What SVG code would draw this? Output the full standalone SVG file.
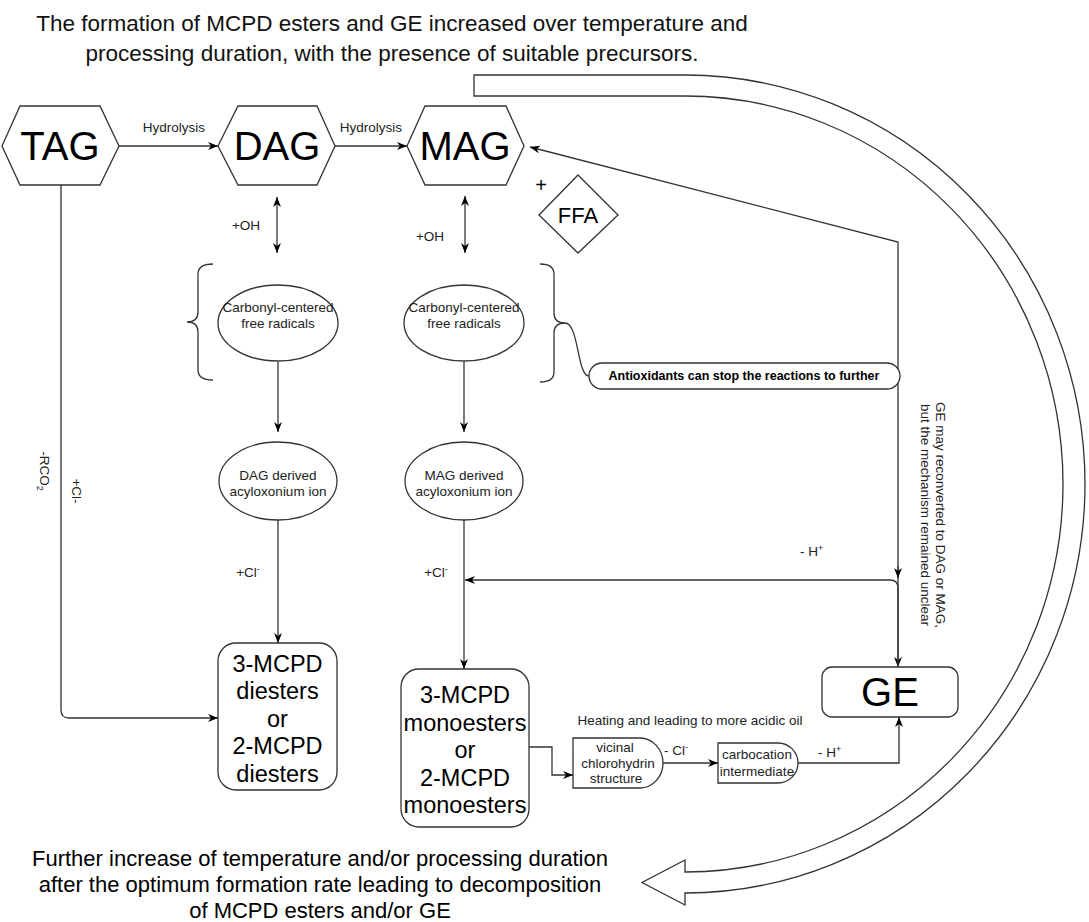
<svg xmlns="http://www.w3.org/2000/svg" width="1089" height="922" viewBox="0 0 1089 922">
<defs>
<marker id="arr" viewBox="0 0 10 8" refX="10" refY="4" markerWidth="10" markerHeight="8" orient="auto-start-reverse" markerUnits="userSpaceOnUse">
<path d="M0,0 L10,4 L0,8 L3,4 Z" fill="#000"/>
</marker>
</defs>
<style>
text{font-family:"Liberation Sans",Arial,sans-serif;fill:#000}
.shape{fill:#fff;stroke:#333;stroke-width:1.3}
.ln{fill:none;stroke:#333;stroke-width:1.3}
.big{font-size:40px}
.mid{font-size:23.5px}
.sm{font-size:13.5px;fill:#222}
.ttl{font-size:22.5px;fill:#111}
.c{text-anchor:middle}
</style>
<rect width="1089" height="922" fill="#fff"/>
<g id="title">
<text class="ttl c" x="392" y="31">The formation of MCPD esters and GE increased over temperature and</text>
<text class="ttl c" x="392" y="61">processing duration, with the presence of suitable precursors.</text>
</g>
<g id="cycle-arrow">
<path class="shape" d="M474,75 H685 A400,409 0 0 1 1085,484 A400,409 0 0 1 685,893 V905 L642,882.5 L685,860 V872 A378,388 0 0 0 1063,484 A378,388 0 0 0 685,96 H474 Z"/>
</g>
<g id="bottom-text">
<text class="c" font-size="22" x="320" y="866">Further increase of temperature and/or processing duration</text>
<text class="c" font-size="22" x="320" y="892">after the optimum formation rate leading to decomposition</text>
<text class="c" font-size="22" x="320" y="918">of MCPD esters and/or GE</text>
</g>
<g id="connectors">
<path class="ln" d="M119,146 H218" marker-end="url(#arr)"/>
<path class="ln" d="M335,146 H407" marker-end="url(#arr)"/>
<path class="ln" d="M277,197 V253" marker-start="url(#arr)" marker-end="url(#arr)"/>
<path class="ln" d="M465,196 V253" marker-start="url(#arr)" marker-end="url(#arr)"/>
<path class="ln" d="M278,362 V432" marker-end="url(#arr)"/>
<path class="ln" d="M464,362 V432" marker-end="url(#arr)"/>
<path class="ln" d="M278,520 V643" marker-end="url(#arr)"/>
<path class="ln" d="M464,520 V669" marker-end="url(#arr)"/>
<path class="ln" d="M61,185 V710 Q61,718 69,718 H218" marker-end="url(#arr)"/>
<path class="ln" d="M529,747 H552 V775 H573" marker-end="url(#arr)"/>
<path class="ln" d="M663,763 H718" marker-end="url(#arr)"/>
<path class="ln" d="M798,763 H899 V717" marker-end="url(#arr)"/>
<path class="ln" d="M898,667 V242 L530,147" marker-start="url(#arr)" marker-end="url(#arr)"/>
<path class="ln" d="M898,667 V588 Q898,580 890,580 H465" marker-end="url(#arr)"/>
<path class="ln" d="M898,566 V578" marker-end="url(#arr)"/>
<path class="ln" d="M565,323 C579,323 577,376 589,376"/>
<text class="sm c" x="174" y="132">Hydrolysis</text>
<text class="sm c" x="371" y="132">Hydrolysis</text>
<text class="sm c" x="246" y="230">+OH</text>
<text class="sm c" x="430" y="241">+OH</text>
<text class="sm c" x="248" y="577">+Cl<tspan font-size="9" dy="-5">-</tspan></text>
<text class="sm c" x="436" y="577">+Cl<tspan font-size="9" dy="-5">-</tspan></text>
<text class="sm" x="800" y="556">- H<tspan font-size="9" dy="-5">+</tspan></text>
<text class="sm" x="664" y="755">- Cl<tspan font-size="9" dy="-5">-</tspan></text>
<text class="sm" x="818" y="757">- H<tspan font-size="9" dy="-5">+</tspan></text>
<text class="sm c" x="690" y="725">Heating and leading to more acidic oil</text>
<g transform="translate(45,471) rotate(90)"><text class="sm c" x="0" y="5">-RCO<tspan font-size="9" dy="3">2</tspan></text></g>
<g transform="translate(77,491) rotate(90)"><text class="sm c" x="0" y="5">+Cl-</text></g>
<g transform="translate(933.5,515) rotate(90)">
<text class="sm c" x="0" y="-2.7">GE may reconverted to  DAG or MAG,</text>
<text class="sm c" x="0" y="12.3">but the mechanism remained unclear</text>
</g>
</g>
<g id="TAG">
<polygon class="shape" points="2,146 20,106 100,106 119,146 100,185 20,185"/>
<text class="big c" x="60" y="160">TAG</text>
</g>
<g id="DAG">
<polygon class="shape" points="218,146 238,106 317,106 335,146 317,185 238,185"/>
<text class="big c" x="277" y="160">DAG</text>
</g>
<g id="MAG">
<polygon class="shape" points="407,146 425,106 506,106 524,146 506,185 425,185"/>
<text class="big c" x="465" y="160">MAG</text>
</g>
<g id="FFA">
<text x="541" y="192" font-size="20" class="c">+</text>
<polygon class="shape" points="539,215 578,175 618,215 578,253"/>
<text x="578" y="223" font-size="22" class="c">FFA</text>
</g>
<g id="brackets">
<path class="ln" d="M213,264 Q198,264 198,274 V312 Q198,322 187,322 Q198,322 198,332 V370 Q198,380 213,380"/>
<path class="ln" d="M540,264 Q554,264 554,274 V313 Q554,323 565,323 Q554,323 554,333 V372 Q554,382 540,382"/>
</g>
<g id="DAG-radicals">
<ellipse class="shape" cx="278" cy="323" rx="60" ry="38"/>
<text class="sm c" x="278" y="312">Carbonyl-centered</text>
<text class="sm c" x="278" y="328">free radicals</text>
</g>
<g id="MAG-radicals">
<ellipse class="shape" cx="464" cy="323" rx="60" ry="38"/>
<text class="sm c" x="464" y="312">Carbonyl-centered</text>
<text class="sm c" x="464" y="328">free radicals</text>
</g>
<g id="antioxidants">
<rect class="shape" x="589" y="363" width="311" height="26" rx="13"/>
<text x="744" y="380" font-size="12.5" font-weight="bold" class="c">Antioxidants can stop the reactions to further</text>
</g>
<g id="DAG-ion">
<ellipse class="shape" cx="278" cy="481" rx="59" ry="39"/>
<text class="sm c" x="278" y="480">DAG derived</text>
<text class="sm c" x="278" y="496">acyloxonium ion</text>
</g>
<g id="MAG-ion">
<ellipse class="shape" cx="464" cy="481" rx="59" ry="39"/>
<text class="sm c" x="464" y="480">MAG derived</text>
<text class="sm c" x="464" y="496">acyloxonium ion</text>
</g>
<g id="diesters">
<rect class="shape" x="218" y="643" width="119" height="147" rx="18"/>
<text class="mid c" x="277.5" y="671.5">3-MCPD</text>
<text class="mid c" x="277.5" y="699">diesters</text>
<text class="mid c" x="277.5" y="726.5">or</text>
<text class="mid c" x="277.5" y="754">2-MCPD</text>
<text class="mid c" x="277.5" y="781.5">diesters</text>
</g>
<g id="monoesters">
<rect class="shape" x="401" y="669" width="128" height="158" rx="18"/>
<text class="mid c" x="465" y="703">3-MCPD</text>
<text class="mid c" x="465" y="730.5">monoesters</text>
<text class="mid c" x="465" y="758">or</text>
<text class="mid c" x="465" y="785.5">2-MCPD</text>
<text class="mid c" x="465" y="813">monoesters</text>
</g>
<g id="vicinal">
<path class="shape" d="M573,738 H640 A23,25 0 0 1 640,788 H573 Z"/>
<text class="sm c" x="615" y="752">vicinal</text>
<text class="sm c" x="618" y="768">chlorohydrin</text>
<text class="sm c" x="616" y="783">structure</text>
</g>
<g id="carbocation">
<path class="shape" d="M718,743 H778 A20,20 0 0 1 778,783 H718 Z"/>
<text class="sm c" x="757" y="759">carbocation</text>
<text class="sm c" x="757" y="776">intermediate</text>
</g>
<g id="GE">
<rect class="shape" x="822" y="667" width="136" height="50" rx="10"/>
<text class="big c" x="890" y="706">GE</text>
</g>
</svg>
